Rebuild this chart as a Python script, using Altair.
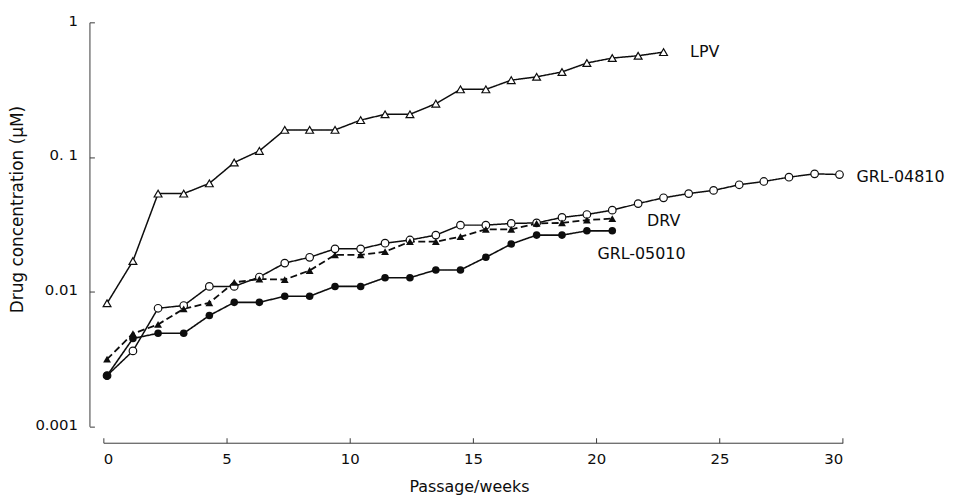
import altair as alt
import pandas as pd

# Passage time (weeks) of each sampling point
weeks = [0.15, 1.20, 2.22, 3.26, 4.30, 5.31, 6.33, 7.36, 8.37, 9.40,
         10.44, 11.43, 12.44, 13.49, 14.49, 15.52, 16.55, 17.58, 18.61, 19.62,
         20.65, 21.70, 22.73, 23.75, 24.76, 25.80, 26.80, 27.82, 28.86, 29.87]

# Drug concentration (uM)
lpv = [0.0082, 0.0169, 0.0535, 0.0535, 0.0637, 0.091, 0.111, 0.159, 0.159, 0.159,
       0.188, 0.2075, 0.2075, 0.249, 0.318, 0.318, 0.372, 0.394, 0.428, 0.499,
       0.543, 0.565, 0.601]
grl04810 = [0.00238, 0.00363, 0.00753, 0.00789, 0.01094, 0.01094, 0.01285, 0.0163, 0.0180, 0.0208,
            0.0208, 0.0229, 0.0242, 0.0263, 0.0312, 0.0312, 0.0321, 0.0324, 0.0356, 0.0374,
            0.0403, 0.0451, 0.0498, 0.0535, 0.0565, 0.0622, 0.0658, 0.0708, 0.0750, 0.0741]
drv = [0.00315, 0.00488, 0.00571, 0.00746, 0.00826, 0.01173, 0.0124, 0.0123, 0.01436, 0.01875,
       0.01875, 0.0198, 0.0235, 0.0235, 0.0256, 0.0290, 0.0290, 0.0321, 0.0324, 0.0340,
       0.0349]
grl05010 = [0.00238, 0.00449, 0.00491, 0.00491, 0.00665, 0.00833, 0.00833, 0.00925, 0.00925, 0.01094,
            0.01094, 0.0127, 0.0127, 0.0145, 0.0145, 0.0180, 0.0226, 0.0263, 0.0263, 0.0283,
            0.0283]

series_names = ["LPV", "GRL-04810", "DRV", "GRL-05010"]
series_values = [lpv, grl04810, drv, grl05010]

x_ticks = [0, 5, 10, 15, 20, 25, 30]
y_ticks = [0.001, 0.01, 0.1, 1]
y_tick_labels = ["0.001", "0.01", "0. 1", "1"]

W, H = 744.3, 406.7
XOFF, YOFF = 16.5, 14
FONT = "DejaVu Sans"
INK = "#0d0d0d"
AX = "#3a3a3a"

xscale = alt.Scale(domain=[0, 30], nice=False, zero=False)
yscale = alt.Scale(type="log", domain=[0.001, 1], nice=False)

label_expr = " : ".join(
    f"datum.value >= {v} * 0.999 ? '{t}'" for v, t in zip(reversed(y_ticks), reversed(y_tick_labels))
) + " : ''"

x_axis = alt.Axis(values=x_ticks, orient="bottom", offset=XOFF, tickSize=0, grid=False,
                  domainColor=AX, domainWidth=1, labelFont=FONT, labelFontSize=15, labelColor=INK,
                  labelPadding=9, title="Passage/weeks", titleFont=FONT, titleFontSize=16,
                  titleFontWeight="normal", titleColor=INK, titleX=368, titleY=49,
                  titleBaseline="alphabetic", titleAlign="center")
y_axis = alt.Axis(values=y_ticks, orient="left", offset=YOFF, tickSize=0, grid=False,
                  domainColor=AX, domainWidth=1, labelFont=FONT, labelFontSize=15, labelColor=INK,
                  labelPadding=12, labelExpr=label_expr, labelBaseline="middle", labelOffset=-2,
                  title="Drug concentration (μM)", titleFont=FONT, titleFontSize=17,
                  titleFontWeight="normal", titleColor=INK, titleX=-72.5, titleY=188,
                  titleAngle=-90, titleBaseline="middle", titleAlign="center")

rows = []
for name, vals in zip(series_names, series_values):
    for w, v in zip(weeks, vals):
        rows.append({"series": name, "week": w, "conc": v})
df = pd.DataFrame(rows)

styles = {
    "LPV": dict(shape="triangle-up", filled=False, dash=[1, 0], width=1.5, size=62),
    "GRL-04810": dict(shape="circle", filled=False, dash=[1, 0], width=1.5, size=58),
    "DRV": dict(shape="triangle-up", filled=True, dash=[7, 3.5], width=1.8, size=62),
    "GRL-05010": dict(shape="circle", filled=True, dash=[1, 0], width=1.6, size=58),
}
label_offsets = {
    "LPV": (26.7, 0),
    "GRL-04810": (17, 3),
    "DRV": (35, 2),
    "GRL-05010": (-15, 23.5),
}


def enc(chart):
    return chart.encode(
        x=alt.X("week:Q", scale=xscale, axis=x_axis),
        y=alt.Y("conc:Q", scale=yscale, axis=y_axis),
    )


layers = []
for name in series_names:
    sub = df[df.series == name]
    st = styles[name]
    layers.append(enc(alt.Chart(sub).mark_line(color=INK, strokeWidth=st["width"],
                                               strokeDash=st["dash"])))
for name in series_names:
    sub = df[df.series == name]
    st = styles[name]
    if st["filled"]:
        pts = alt.Chart(sub).mark_point(shape=st["shape"], filled=True, color=INK,
                                        size=st["size"], opacity=1)
    else:
        pts = alt.Chart(sub).mark_point(shape=st["shape"], filled=False, stroke=INK, fill="white",
                                        fillOpacity=1, strokeWidth=1.2, size=st["size"], opacity=1)
    layers.append(enc(pts))
    last = sub.iloc[[-1]].copy()
    last["label"] = name
    dx, dy = label_offsets[name]
    layers.append(
        enc(alt.Chart(last).mark_text(align="left", baseline="middle", dx=dx, dy=dy, font=FONT,
                                      fontSize=16, color=INK)).encode(text="label:N")
    )

main = alt.layer(*layers)

ghost = alt.Chart(df).mark_point(opacity=0).encode(
    x=alt.X("week:Q", scale=xscale,
            axis=alt.Axis(values=x_ticks, orient="top", offset=-(H + XOFF), labels=False,
                          domain=False, ticks=True, tickSize=5, tickColor=AX, tickWidth=1,
                          grid=False, title=None)),
    y=alt.Y("conc:Q", scale=yscale,
            axis=alt.Axis(values=y_ticks, orient="right", offset=-(W + YOFF), labels=False,
                          domain=False, ticks=True, tickSize=5, tickColor=AX, tickWidth=1,
                          grid=False, title=None)),
)

chart = alt.layer(main, ghost).resolve_scale(x="independent", y="independent").properties(
    width=W, height=H,
    autosize=alt.AutoSizeParams(type="none"),
    padding={"left": 96, "top": 12.8, "right": 106, "bottom": 70},
    background="white",
).configure_view(stroke=None)

chart.save("out.html", embed_options={"renderer": "svg", "actions": False})
